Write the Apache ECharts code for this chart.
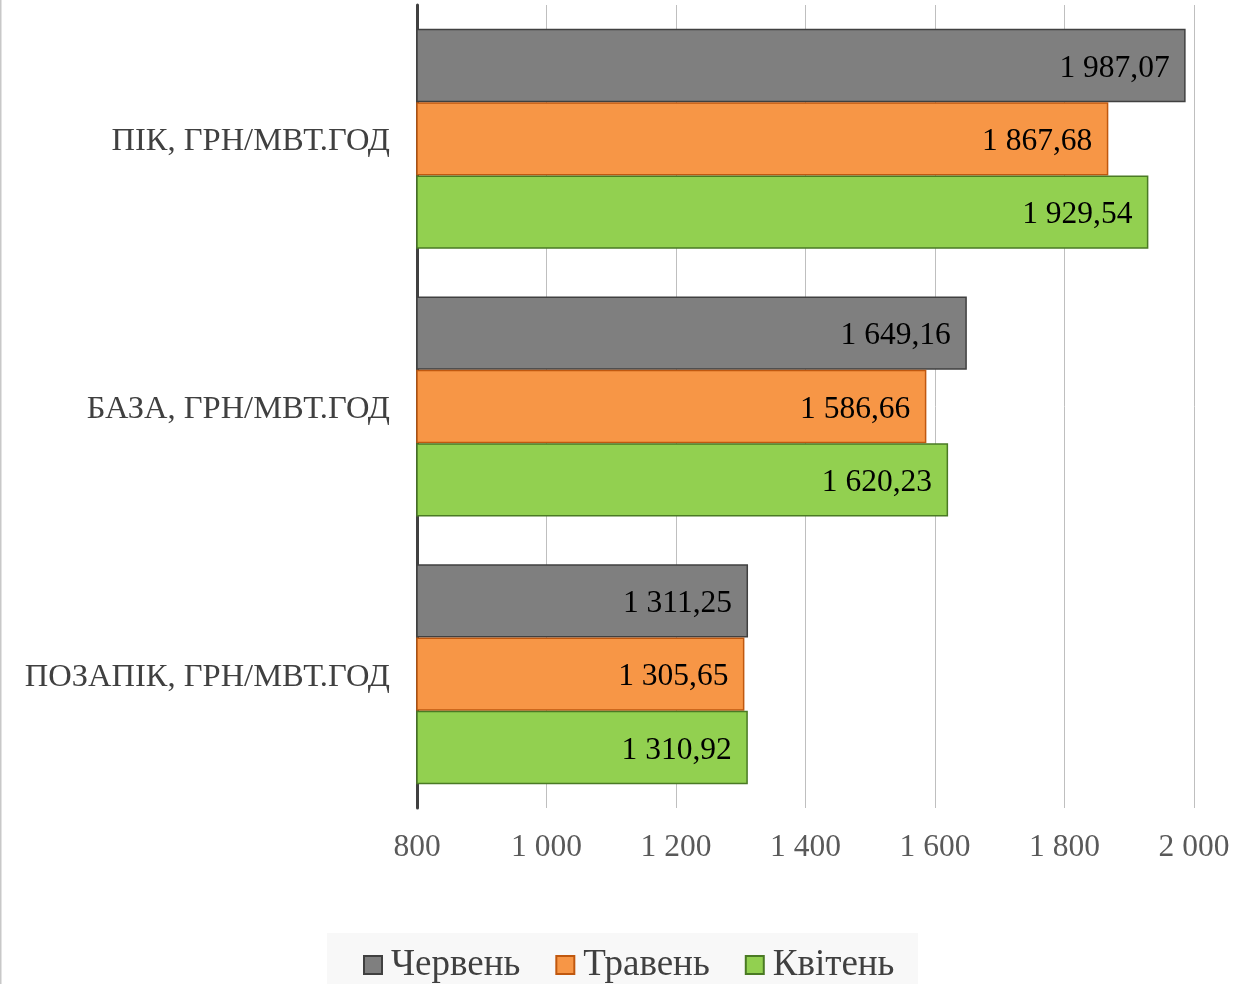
<!DOCTYPE html>
<html><head><meta charset="utf-8">
<script src="https://cdn.jsdelivr.net/npm/echarts@6/dist/echarts.min.js"></script>
<style>html,body{margin:0;padding:0;background:#fff}#c{width:1242px;height:984px;}</style>
</head><body><div id="c"></div>
<script>
const categories = ['ПІК, ГРН/МВТ.ГОД', 'БАЗА, ГРН/МВТ.ГОД', 'ПОЗАПІК, ГРН/МВТ.ГОД'];
const seriesNames = ['Червень', 'Травень', 'Квітень'];
const cherven = [1987.07, 1649.16, 1311.25];
const traven = [1867.68, 1586.66, 1305.65];
const kviten = [1929.54, 1620.23, 1310.92];
const colors = ['#7f7f7f', '#f79646', '#92d050'];
const borders = ['#404040', '#c0580f', '#4a7a24'];
const values = [cherven, traven, kviten];

function fmt(v, dec) {
  const parts = v.toFixed(dec).split('.');
  const int = parts[0].replace(/\B(?=(\d{3})+(?!\d))/g, ' ');
  return dec ? int + ',' + parts[1] : int;
}

const chart = echarts.init(document.getElementById('c'), null, {renderer: 'canvas'});
chart.setOption({
  animation: false,
  textStyle: {fontFamily: 'Liberation Serif'},
  graphic: [
    {type: 'rect', shape: {x: 327, y: 933, width: 591, height: 60}, style: {fill: '#f8f8f8'}, z: -1},
    {type: 'line', shape: {x1: 0.5, y1: 0, x2: 0.5, y2: 984}, style: {stroke: '#c8c8c8', lineWidth: 2}}
  ],
  grid: {left: 417, right: 48, top: 5, bottom: 176, containLabel: false},
  xAxis: {
    type: 'value', min: 800, max: 2000, interval: 200,
    axisLine: {show: false},
    axisTick: {show: false},
    splitLine: {show: true, lineStyle: {color: '#bfbfbf', width: 1}},
    axisLabel: {fontFamily: 'Liberation Serif', fontSize: 31.5, color: '#595959', margin: 24,
      formatter: v => fmt(v, 0)}
  },
  yAxis: {
    type: 'category', data: categories, inverse: true,
    axisLine: {show: true, lineStyle: {color: '#404040', width: 3}},
    axisTick: {show: false},
    axisLabel: {margin: 27, formatter: v => '{a|' + v + '}',
      rich: {a: {fontFamily: 'Liberation Serif', fontSize: 32.5, color: '#404040', padding: [6, 0, 0, 0]}}}
  },
  legend: {
    top: 940, left: 358,
    itemWidth: 18, itemHeight: 18, itemGap: 35,
    textStyle: {fontFamily: 'Liberation Serif', fontSize: 37, color: '#404040', padding: [0, 0, 0, 4], lineHeight: 40},
    data: seriesNames.map(n => ({name: n, icon: 'rect'}))
  },
  series: seriesNames.map((n, i) => ({
    name: n, type: 'bar', data: values[i],
    barGap: '0%', barCategoryGap: '17.8%',
    itemStyle: {color: colors[i], borderColor: borders[i], borderWidth: 1.5},
    label: {show: true, position: 'insideRight', distance: 16, offset: [0, 3], fontFamily: 'Liberation Serif',
      fontSize: 31.5, color: '#000', formatter: p => fmt(p.value, 2)}
  }))
});
</script></body></html>
